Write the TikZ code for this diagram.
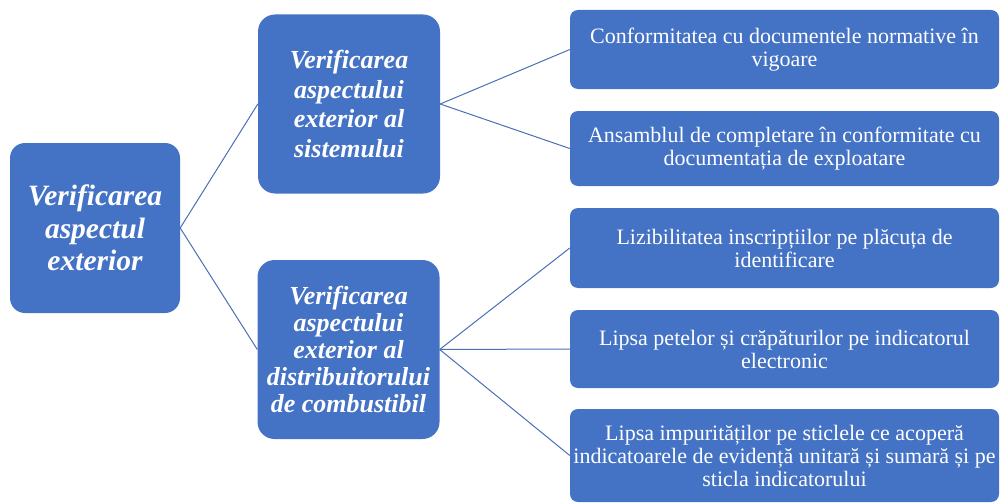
\documentclass[tikz,border=0pt]{standalone}
\usepackage{fontspec}
\setmainfont{Liberation Serif}
\definecolor{boxblue}{HTML}{4472C4}
\definecolor{lineblue}{HTML}{4A6FB5}
\begin{document}
\begin{tikzpicture}[x=1pt,y=-1pt,
  box/.style={fill=boxblue, draw=none, inner sep=0pt, align=center, text=white},
  rootbox/.style={box, rounded corners=15pt, minimum width=170pt, minimum height=170pt,
    font=\fontsize{29.5}{32.5}\selectfont\bfseries\itshape},
  midbox/.style={box, rounded corners=17pt, minimum width=182pt, minimum height=179pt,
    font=\fontsize{26}{29.5}\selectfont\bfseries\itshape},
  leafbox/.style={box, rounded corners=8pt, minimum width=429pt,
    font=\fontsize{22}{23}\selectfont},
  link/.style={draw=lineblue, line width=1pt}]
\useasboundingbox (0,0) rectangle (1000,503);
\node[rootbox] (root) at (95,228) {Verificarea\\aspectul\\exterior};
\node[midbox] (m1) at (349,104) {Verificarea\\aspectului\\exterior al\\sistemului};
\node[midbox, font=\fontsize{26}{27}\selectfont\bfseries\itshape] (m2) at (348.5,349.5) {Verificarea\\aspectului\\exterior al\\distribuitorului\\de combustibil};
\node[leafbox, minimum height=79pt] (l1) at (784.5,49.5) {Conformitatea cu documentele normative în\\vigoare};
\node[leafbox, minimum height=75pt] (l2) at (784.5,148.5) {Ansamblul de completare în conformitate cu\\documentația de exploatare};
\node[leafbox, minimum height=80pt] (l3) at (784.5,248) {Lizibilitatea inscripțiilor pe plăcuța de\\identificare};
\node[leafbox, minimum height=78pt] (l4) at (784.5,349) {Lipsa petelor și crăpăturilor pe indicatorul\\electronic};
\node[leafbox, minimum height=93pt] (l5) at (784.5,455.5) {Lipsa impurităților pe sticlele ce acoperă\\indicatoarele de evidență unitară și sumară și pe\\sticla indicatorului};
\draw[link] (root.east) -- (m1.west);
\draw[link] (root.east) -- (m2.west);
\draw[link] (m1.east) -- (l1.west);
\draw[link] (m1.east) -- (l2.west);
\draw[link] (m2.east) -- (l3.west);
\draw[link] (m2.east) -- (l4.west);
\draw[link] (m2.east) -- (l5.west);
\end{tikzpicture}
\end{document}
